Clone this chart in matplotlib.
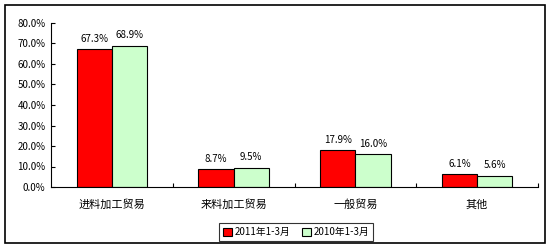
import numpy as np
from matplotlib import pyplot as plt
from matplotlib.patches import Rectangle

plt.rcParams['font.family'] = ['Noto Sans CJK SC', 'DejaVu Sans']

categories = ['进料加工贸易', '来料加工贸易', '一般贸易', '其他']
share_2011 = [67.3, 8.7, 17.9, 6.1]
share_2010 = [68.9, 9.5, 16.0, 5.6]
series_names = ['2011年1-3月', '2010年1-3月']
yticks = [0, 10, 20, 30, 40, 50, 60, 70, 80]

fig = plt.figure(figsize=(5.56, 2.5), dpi=100)
ax = fig.add_axes([51 / 556, 1 - 187 / 250, (538 - 51) / 556, (187 - 23) / 250])

# outer frame of the chart
fig.patches.append(Rectangle((5 / 556, 1 - 243 / 250), 540 / 556, 238 / 250,
                             transform=fig.transFigure, fill=False,
                             edgecolor='black', linewidth=1.2))

x = np.arange(len(categories))
w = 0.29
b1 = ax.bar(x - w / 2, share_2011, w, color='#ff0000', edgecolor='black',
            linewidth=0.8, label=series_names[0])
b2 = ax.bar(x + w / 2, share_2010, w, color='#ccffcc', edgecolor='black',
            linewidth=0.8, label=series_names[1])

for bars, vals in ((b1, share_2011), (b2, share_2010)):
    for r, v in zip(bars, vals):
        ax.text(r.get_x() + r.get_width() / 2, v + 2.6, f'{v:.1f}%',
                ha='center', va='bottom', fontsize=7)

ax.set_xlim(-0.5, len(categories) - 0.5)
ax.set_ylim(0, 80)
ax.set_yticks(yticks)
ax.set_yticklabels([f'{t:.1f}%' for t in yticks], fontsize=7)
ax.set_xticks(x)
ax.set_xticklabels(categories, fontsize=8)
ax.set_xticks(np.arange(len(categories)) + 0.5, minor=True)
ax.tick_params(axis='x', which='major', length=0, pad=9)
ax.tick_params(axis='x', which='minor', length=3, direction='in', width=0.8)
ax.tick_params(axis='y', length=3, direction='in', width=0.8, pad=4)

for s in ('top', 'right'):
    ax.spines[s].set_visible(False)
for s in ('left', 'bottom'):
    ax.spines[s].set_linewidth(0.8)

leg = fig.legend(loc='center', bbox_to_anchor=(296 / 556, 1 - 232 / 250),
                 ncol=2, fontsize=7, frameon=True, fancybox=False,
                 edgecolor='black', handlelength=0.9, handleheight=0.9,
                 handletextpad=0.3, columnspacing=1.2, borderpad=0.4)
leg.get_frame().set_linewidth(0.8)

fig.savefig('out.png', dpi=100)
